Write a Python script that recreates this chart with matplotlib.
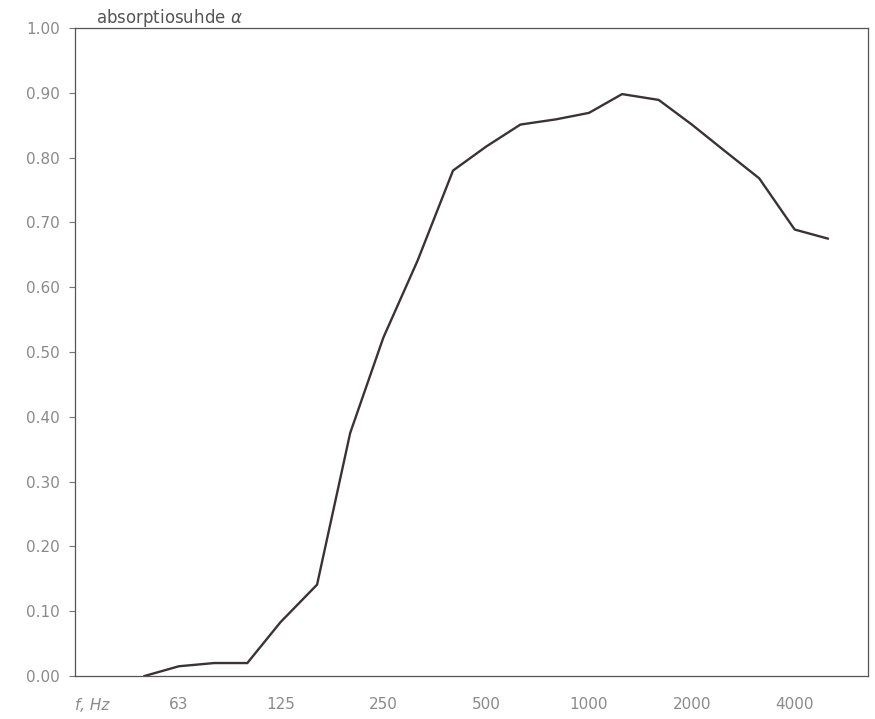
import matplotlib

matplotlib.use("Agg")
import matplotlib.pyplot as plt
from matplotlib.ticker import FixedLocator, NullLocator

# third-octave band centre frequencies, Hz
freq = [50, 63, 80, 100, 125, 160, 200, 250, 315, 400, 500,
        630, 800, 1000, 1250, 1600, 2000, 2500, 3150, 4000, 5000]
# absorption coefficient per band
alpha = [0.00, 0.015, 0.02, 0.02, 0.083, 0.141, 0.375, 0.522, 0.641, 0.78, 0.817,
         0.851, 0.859, 0.869, 0.898, 0.889, 0.851, 0.81, 0.768, 0.689, 0.675]

octave_ticks = [63, 125, 250, 500, 1000, 2000, 4000]
alpha_ticks = [0.0, 0.1, 0.2, 0.3, 0.4, 0.5, 0.6, 0.7, 0.8, 0.9, 1.0]

W, H = 875, 719
fig = plt.figure(figsize=(W / 100, H / 100), dpi=100)
fig.patch.set_facecolor("white")

# axes frame in pixels: left 75, right 868, top 28, bottom 676
ax = fig.add_axes([75 / W, (H - 676) / H, 793 / W, 648 / H])

ax.plot(freq, alpha, color="#3b3238", linewidth=1.7, solid_joinstyle="miter")

ax.set_xscale("log")
ax.set_xlim(31.3, 6557)
ax.set_ylim(0, 1.0)

ax.xaxis.set_major_locator(FixedLocator(octave_ticks))
ax.xaxis.set_minor_locator(NullLocator())
ax.set_xticklabels([str(f) for f in octave_ticks])
ax.yaxis.set_major_locator(FixedLocator(alpha_ticks))
ax.set_yticklabels([f"{v:.2f}" for v in alpha_ticks])

ax.tick_params(axis="x", length=0, pad=15, labelsize=11, labelcolor="#8a8a8a")
ax.tick_params(axis="y", direction="out", length=4, width=0.8, color="#777777",
               pad=7, labelsize=11, labelcolor="#8a8a8a")

for side in ("left", "right", "top", "bottom"):
    ax.spines[side].set_color("#555555")
    ax.spines[side].set_linewidth(0.9)

fig.text(96 / W, 1 - 18 / H, r"absorptiosuhde $\alpha$", fontsize=12,
         color="#555555", va="center", ha="left")
fig.text(75 / W, 1 - 705 / H, "f, Hz", fontsize=11, style="italic",
         color="#8a8a8a", va="center", ha="left")

fig.savefig("out.png", dpi=100, facecolor="white")
